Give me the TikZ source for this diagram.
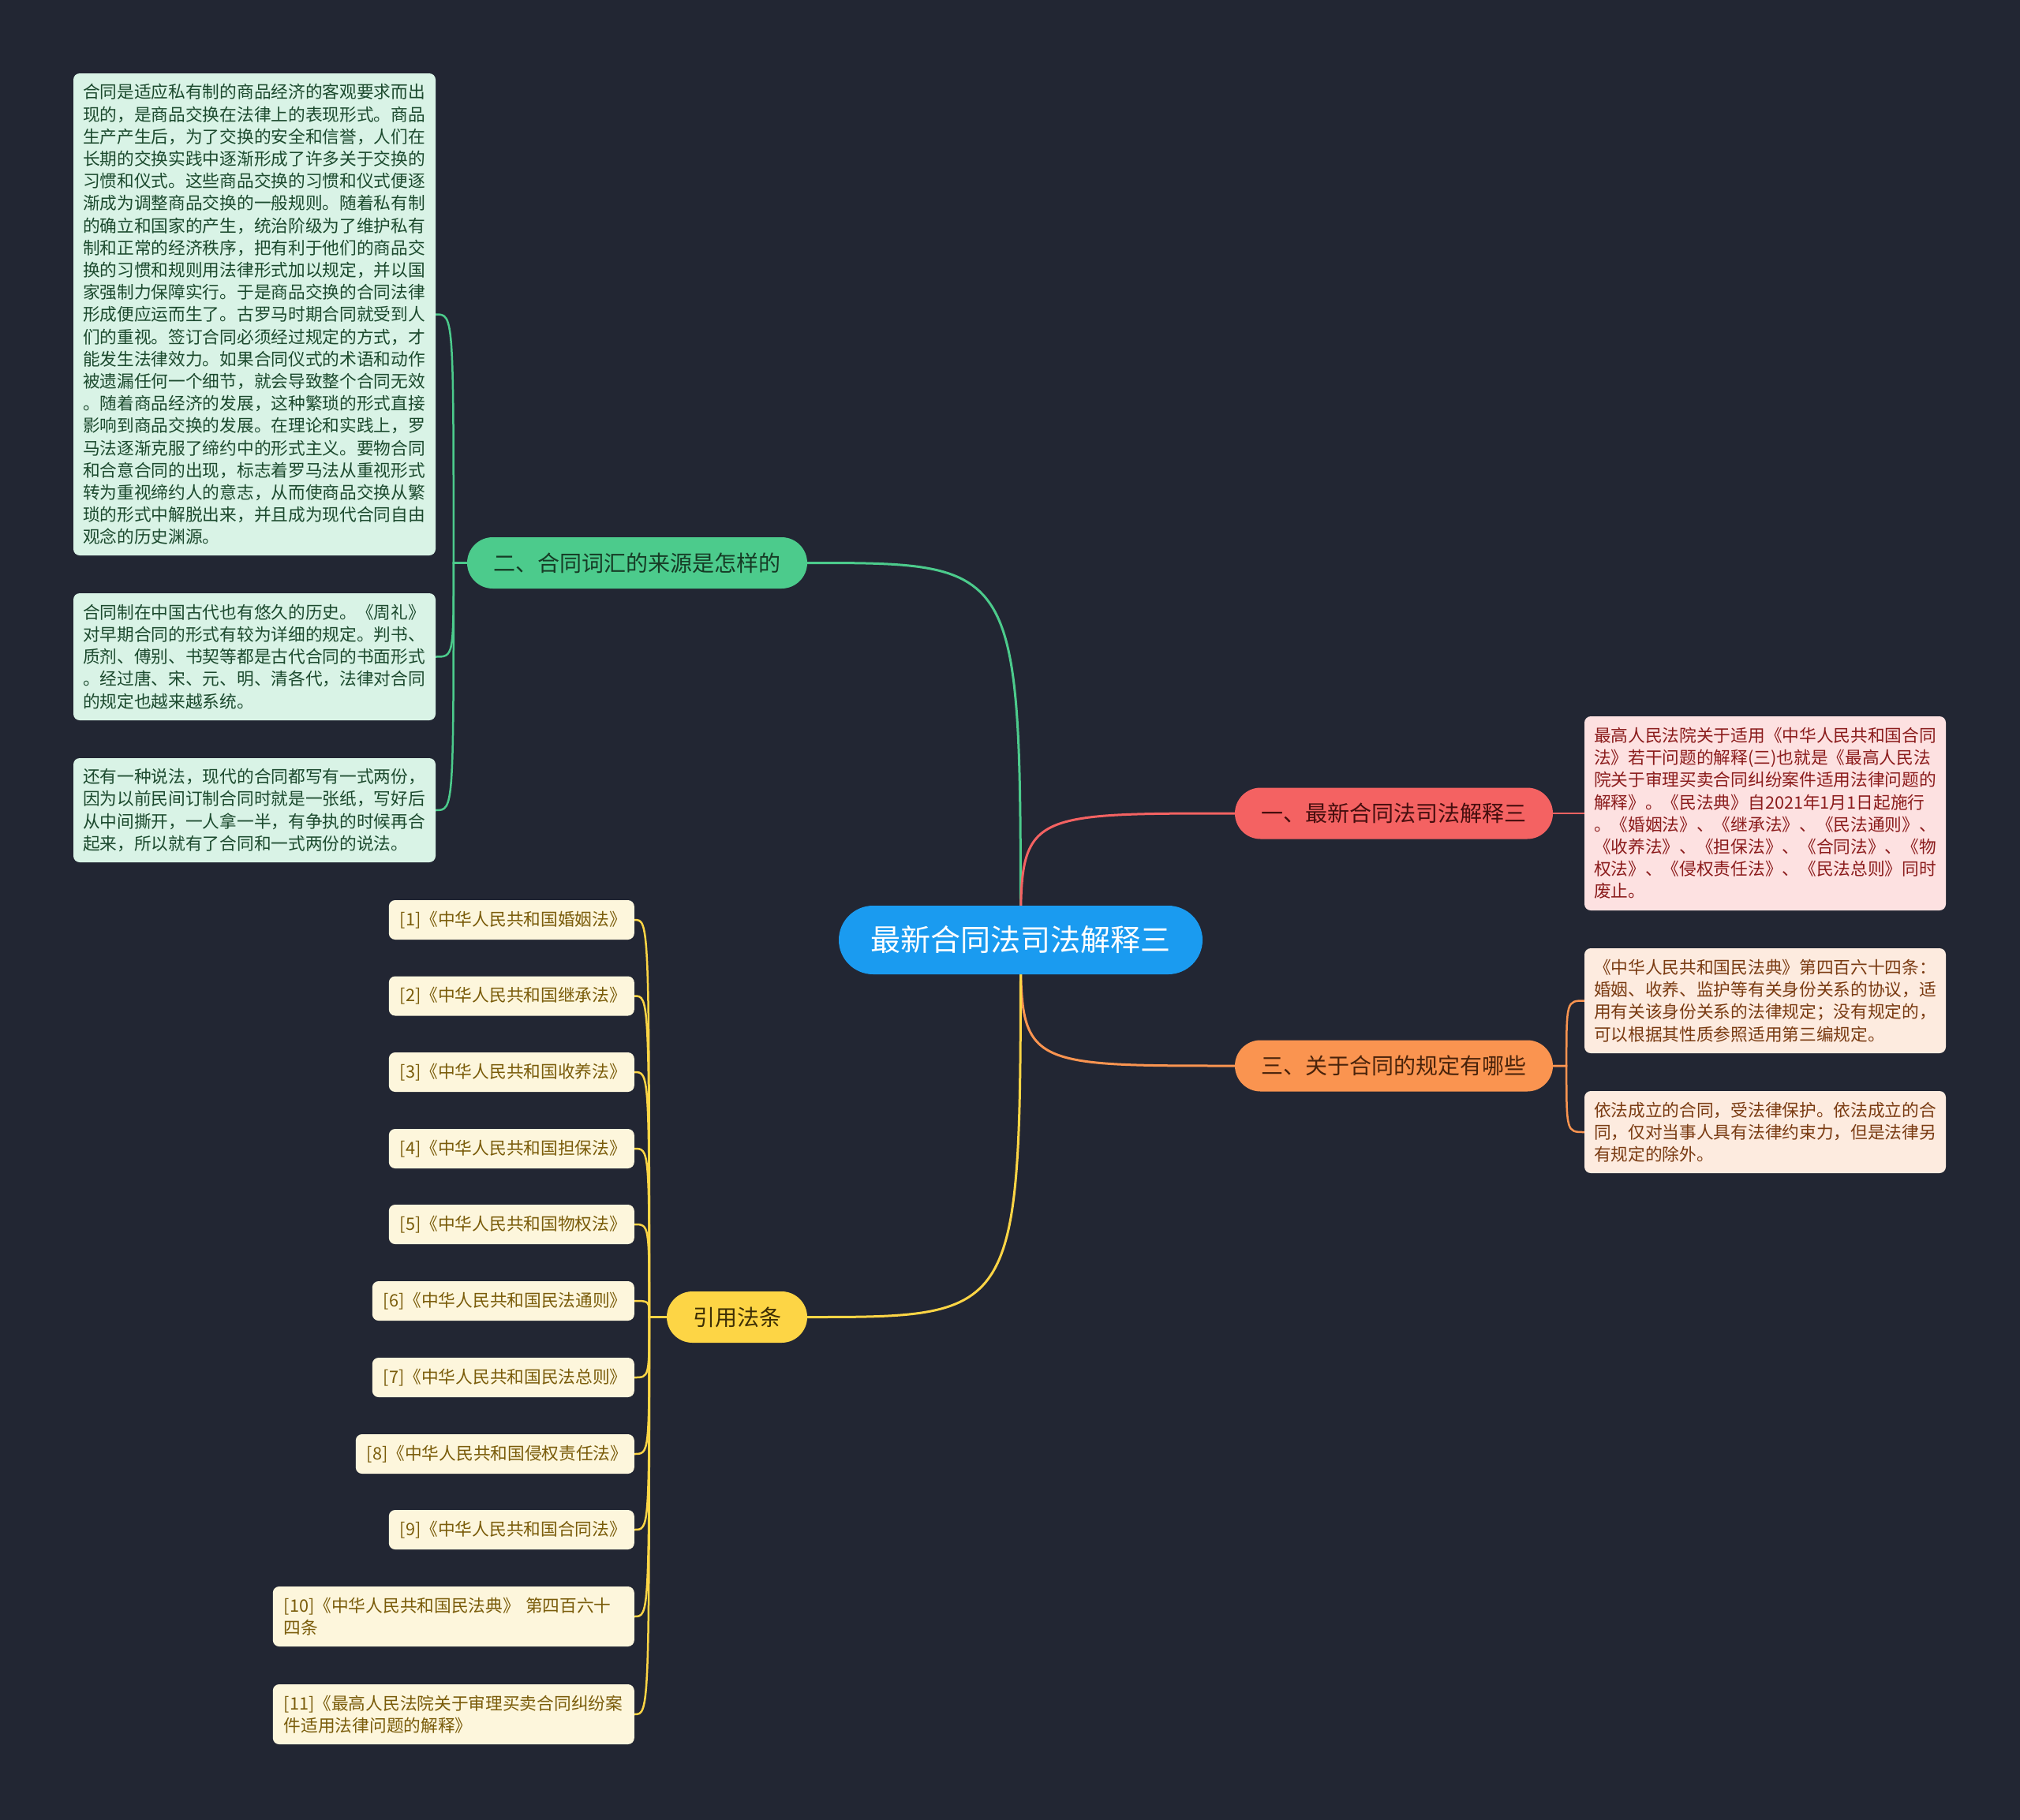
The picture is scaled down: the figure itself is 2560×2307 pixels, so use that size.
\documentclass[tikz,border=0pt]{standalone}
\usepackage{fontspec}
\setmainfont{Noto Sans CJK SC}
\usetikzlibrary{backgrounds}
\pgfdeclarelayer{edges}
\pgfsetlayers{background,edges,main}
\definecolor{bgcol}{HTML}{222633}
\definecolor{ccol}{HTML}{1A9BF0}
\definecolor{gcol}{HTML}{4CCB8C}
\definecolor{rcol}{HTML}{F46262}
\definecolor{ocol}{HTML}{FA9450}
\definecolor{ycol}{HTML}{FDD545}
\definecolor{gfill}{HTML}{D9F3E6}
\definecolor{gtext}{HTML}{1C4A2E}
\definecolor{rfill}{HTML}{FDE1E1}
\definecolor{rtext}{HTML}{8B1C1C}
\definecolor{ofill}{HTML}{FDEBDF}
\definecolor{otext}{HTML}{7A3B12}
\definecolor{yfill}{HTML}{FDF6DC}
\definecolor{ytext}{HTML}{7A5C0A}
\begin{document}
\begin{tikzpicture}[x=1pt,y=-1pt,
  central/.style={fill=ccol,text=white,minimum width=461pt,minimum height=87pt,rounded corners=43.5pt,inner sep=0pt,font=\fontsize{38}{46}\selectfont},
  branch/.style={minimum height=65pt,rounded corners=32.5pt,inner sep=0pt,font=\fontsize{28}{34}\selectfont},
  leaf/.style={rounded corners=8pt,inner xsep=12pt,inner ysep=0pt,align=left,font=\fontsize{21.7}{28.2}\selectfont},
  gleaf/.style={leaf,fill=gfill,text=gtext,text width=435pt},
  rleaf/.style={leaf,fill=rfill,text=rtext,text width=434pt},
  oleaf/.style={leaf,fill=ofill,text=otext,text width=434pt},
  refbox/.style={leaf,fill=yfill,text=ytext,inner xsep=14pt,anchor=east,minimum height=50pt},
  mainline/.style={line width=3pt},
  subline/.style={line width=2.5pt}]
\begin{pgfonlayer}{background}
\fill[bgcol] (0,0) rectangle (2560,2307);
\end{pgfonlayer}
\useasboundingbox (0,0) rectangle (2560,2307);

% central and branches
\node[central] (C) at (1293.5,1191.5) {最新合同法司法解释三};
\node[branch,fill=gcol,text=gtext!80!black,minimum width=431pt] (G) at (807.5,713.5) {二、合同词汇的来源是怎样的};
\node[branch,fill=rcol,text=rtext!50!black,minimum width=403pt] (R) at (1766.5,1031) {一、最新合同法司法解释三};
\node[branch,fill=ocol,text=otext!60!black,minimum width=403pt] (O) at (1766.5,1351) {三、关于合同的规定有哪些};
\node[branch,fill=ycol,text=ytext!50!black,minimum width=178pt] (Y) at (934,1669.5) {引用法条};

% green leaves
\node[gleaf,minimum height=611pt] (G1) at (322.5,398.5) {合同是适应私有制的商品经济的客观要求而出\\现的，是商品交换在法律上的表现形式。商品\\生产产生后，为了交换的安全和信誉，人们在\\长期的交换实践中逐渐形成了许多关于交换的\\习惯和仪式。这些商品交换的习惯和仪式便逐\\渐成为调整商品交换的一般规则。随着私有制\\的确立和国家的产生，统治阶级为了维护私有\\制和正常的经济秩序，把有利于他们的商品交\\换的习惯和规则用法律形式加以规定，并以国\\家强制力保障实行。于是商品交换的合同法律\\形成便应运而生了。古罗马时期合同就受到人\\们的重视。签订合同必须经过规定的方式，才\\能发生法律效力。如果合同仪式的术语和动作\\被遗漏任何一个细节，就会导致整个合同无效\\。随着商品经济的发展，这种繁琐的形式直接\\影响到商品交换的发展。在理论和实践上，罗\\马法逐渐克服了缔约中的形式主义。要物合同\\和合意合同的出现，标志着罗马法从重视形式\\转为重视缔约人的意志，从而使商品交换从繁\\琐的形式中解脱出来，并且成为现代合同自由\\观念的历史渊源。};
\node[gleaf,minimum height=161pt] (G2) at (322.5,832.5) {合同制在中国古代也有悠久的历史。《周礼》\\对早期合同的形式有较为详细的规定。判书、\\质剂、傅别、书契等都是古代合同的书面形式\\。经过唐、宋、元、明、清各代，法律对合同\\的规定也越来越系统。};
\node[gleaf,minimum height=132pt] (G3) at (322.5,1027) {还有一种说法，现代的合同都写有一式两份，\\因为以前民间订制合同时就是一张纸，写好后\\从中间撕开，一人拿一半，有争执的时候再合\\起来，所以就有了合同和一式两份的说法。};

% red leaf
\node[rleaf,minimum height=246pt] (R1) at (2237,1031) {最高人民法院关于适用《中华人民共和国合同\\法》若干问题的解释(三)也就是《最高人民法\\院关于审理买卖合同纠纷案件适用法律问题的\\解释》。《民法典》自2021年1月1日起施行\\。《婚姻法》、《继承法》、《民法通则》、\\《收养法》、《担保法》、《合同法》、《物\\权法》、《侵权责任法》、《民法总则》同时\\废止。};

% orange leaves
\node[oleaf,minimum height=133pt] (O1) at (2237,1268.5) {《中华人民共和国民法典》第四百六十四条：\\婚姻、收养、监护等有关身份关系的协议，适\\用有关该身份关系的法律规定；没有规定的，\\可以根据其性质参照适用第三编规定。};
\node[oleaf,minimum height=104pt] (O2) at (2237,1435) {依法成立的合同，受法律保护。依法成立的合\\同，仅对当事人具有法律约束力，但是法律另\\有规定的除外。};

% reference boxes
\node[refbox,text width=283pt] (Y1) at (804,1166) {[1]《中华人民共和国婚姻法》};
\node[refbox,text width=283pt] (Y2) at (804,1262.5) {[2]《中华人民共和国继承法》};
\node[refbox,text width=283pt] (Y3) at (804,1359) {[3]《中华人民共和国收养法》};
\node[refbox,text width=283pt] (Y4) at (804,1456) {[4]《中华人民共和国担保法》};
\node[refbox,text width=283pt] (Y5) at (804,1552) {[5]《中华人民共和国物权法》};
\node[refbox,text width=304pt] (Y6) at (804,1649) {[6]《中华人民共和国民法通则》};
\node[refbox,text width=304pt] (Y7) at (804,1746) {[7]《中华人民共和国民法总则》};
\node[refbox,text width=325pt] (Y8) at (804,1843) {[8]《中华人民共和国侵权责任法》};
\node[refbox,text width=283pt] (Y9) at (804,1939) {[9]《中华人民共和国合同法》};
\node[refbox,text width=430pt,minimum height=76pt] (Y10) at (804,2049) {[10]《中华人民共和国民法典》 第四百六十\\四条};
\node[refbox,text width=430pt,minimum height=76pt] (Y11) at (804,2173) {[11]《最高人民法院关于审理买卖合同纠纷案\\件适用法律问题的解释》};

% junction points
\coordinate (gj) at ([xshift=-17pt]G.west);
\coordinate (oj) at ([xshift=17pt]O.east);
\coordinate (yj) at ([xshift=-22pt]Y.west);

\begin{pgfonlayer}{edges}
\draw[mainline,gcol] (C.center) .. controls (C.center |- G.east) .. (G.east);
\draw[mainline,rcol] (C.center) .. controls (C.center |- R.west) .. (R.west);
\draw[mainline,ocol] (C.center) .. controls (C.center |- O.west) .. (O.west);
\draw[mainline,ycol] (C.center) .. controls (C.center |- Y.east) .. (Y.east);

\foreach \n in {G1,G2,G3}
  \draw[subline,gcol] (G.west) -- (gj) .. controls (gj |- \n.east) .. (\n.east);
\draw[subline,rcol] (R.east) -- (R1.west);
\foreach \n in {O1,O2}
  \draw[subline,ocol] (O.east) -- (oj) .. controls (oj |- \n.west) .. (\n.west);
\foreach \n in {Y1,Y2,Y3,Y4,Y5,Y6,Y7,Y8,Y9,Y10,Y11}
  \draw[subline,ycol] (Y.west) -- (yj) .. controls (yj |- \n.east) .. (\n.east);
\end{pgfonlayer}
\end{tikzpicture}
\end{document}
